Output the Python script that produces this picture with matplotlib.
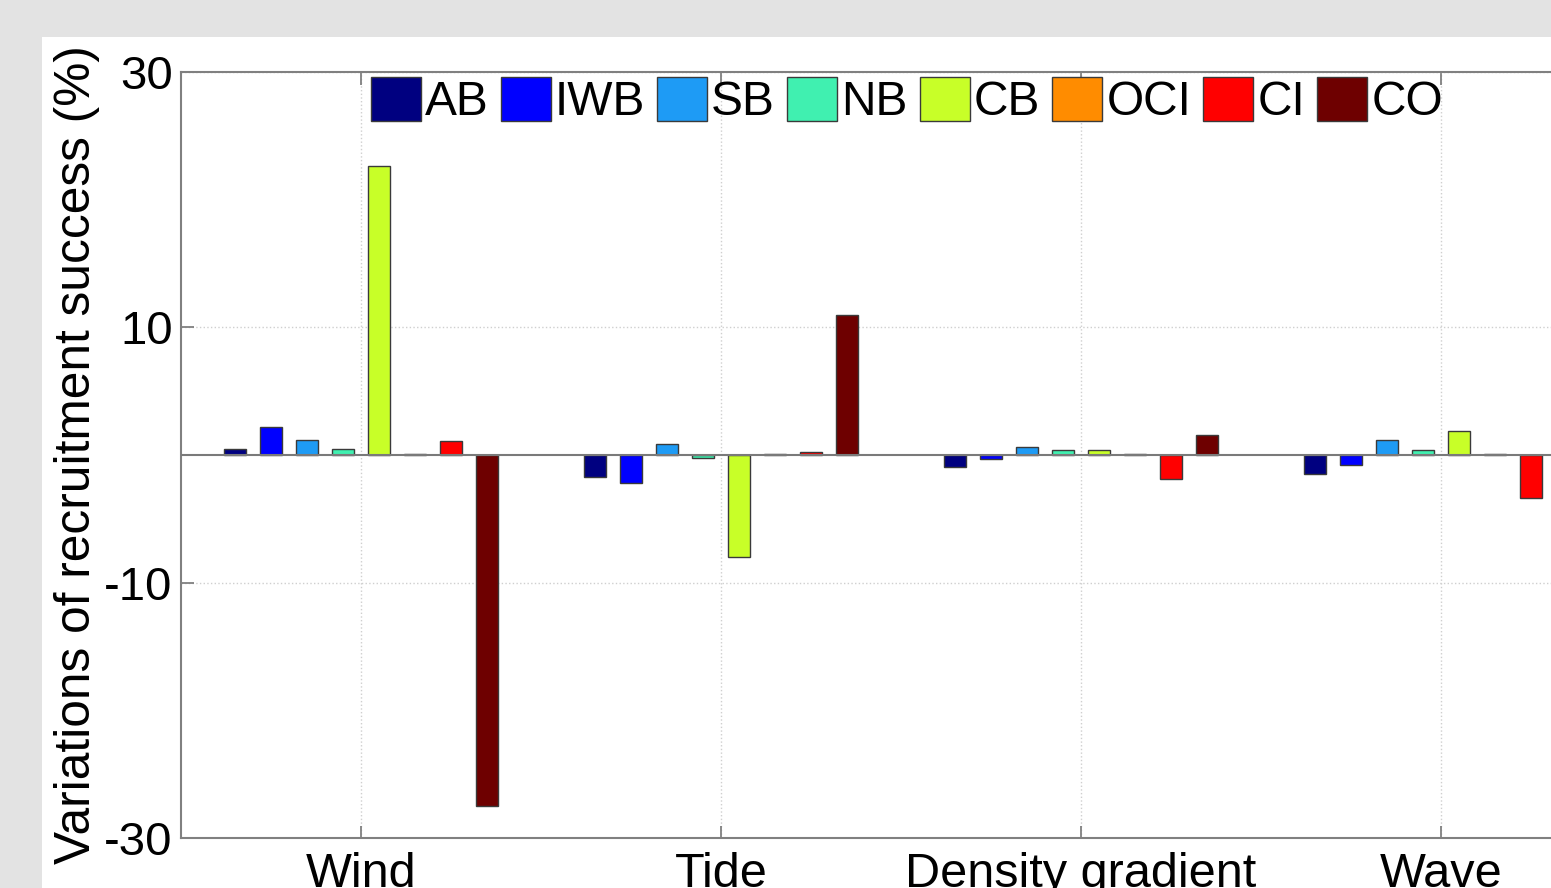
import numpy as np
import matplotlib.pyplot as plt
from matplotlib.patches import Rectangle

plt.rcParams['font.family'] = ['Liberation Sans', 'DejaVu Sans']

# Datos (%)
forcings = ['Wind', 'Tide', 'Density gradient', 'Wave']
zones = ['AB', 'IWB', 'SB', 'NB', 'CB', 'OCI', 'CI', 'CO']
zone_colors = ['#000080', '#0000ff', '#1e9bf5', '#40f0b0', '#c8ff28', '#ff8c00', '#ff0000', '#6e0000']

ab = [0.45, -1.75, -0.95, -1.5]
iwb = [2.2, -2.2, -0.3, -0.8]
sb = [1.2, 0.85, 0.65, 1.2]
nb = [0.45, -0.2, 0.37, 0.42]
cb = [22.6, -8.0, 0.42, 1.85]
oci = [0.05, 0.05, 0.05, 0.05]
ci = [1.1, 0.2, -1.9, -3.4]
co = [-27.5, 11.0, 1.57, 1.0]  # el ultimo queda fuera de la imagen

series = [ab, iwb, sb, nb, cb, oci, ci, co]

fig = plt.figure(figsize=(15.51, 8.88), dpi=100, facecolor='#e3e3e3')
# zona blanca de la figura (detras de los ejes)
fig.add_artist(Rectangle((42 / 1551, 0), 1, 1 - 37 / 888, transform=fig.transFigure,
                         facecolor='white', edgecolor='none', zorder=-10))

ax = fig.add_axes([181 / 1551, 50 / 888, 1440 / 1551, 766 / 888])
ax.set_facecolor('white')

x = np.arange(1, len(forcings) + 1)
for i, (vals, name, col) in enumerate(zip(series, zones, zone_colors)):
    ax.bar(x + (i - 3.5) * 0.1, vals, width=0.061, color=col, edgecolor='#3a3a3a',
           linewidth=1.0, label=name, zorder=3)

ax.axhline(0, color='#7a7a7a', linewidth=1.5, zorder=4)

ax.set_xlim(0.5, 4.5)
ax.set_ylim(-30, 30)
ax.set_xticks(x)
ax.set_xticklabels(forcings, fontsize=35)
ax.set_yticks([-30, -10, 10, 30])
ax.set_yticklabels(['-30', '-10', '10', '30'], fontsize=34)

ax.grid(True, linestyle=':', color='#cfcfcf', linewidth=1.0, zorder=0)
for s in ax.spines.values():
    s.set_color('#808080')
    s.set_linewidth(1.5)
ax.tick_params(direction='in', length=9, width=1.3, color='#808080',
               top=True, right=True, pad=6)
ax.tick_params(axis='x', pad=10)

ax.set_ylabel('Variations of recruitment success (%)', fontsize=35.7, labelpad=3)

ax.legend(loc='upper center', bbox_to_anchor=(0.504, 0.997), ncol=8, frameon=False,
          fontsize=34.5, handlelength=1.05, handleheight=1.05, handletextpad=0.08,
          columnspacing=0.25, borderaxespad=0.05, borderpad=0.0)

plt.savefig('out.png', dpi=100, facecolor=fig.get_facecolor())
